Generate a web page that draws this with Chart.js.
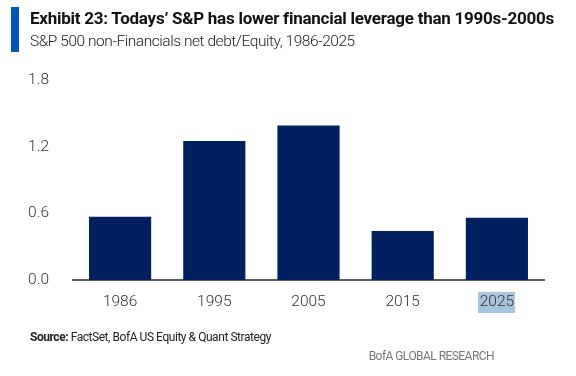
<!DOCTYPE html>
<html>
<head>
<meta charset="utf-8">
<script src="https://cdn.jsdelivr.net/npm/chart.js@4"></script>
<style>
  html, body { margin: 0; padding: 0; background: #fff; }
  #wrap { position: relative; width: 576px; height: 376px; overflow: hidden; font-family: "Roboto", "Liberation Sans", sans-serif; }
  #chart { position: absolute; left: 0; top: 0; }
  .bar { position: absolute; left: 11px; top: 7px; width: 8px; height: 45px; background: #0057b8; }
  .title { position: absolute; left: 30px; top: 8px; font-size: 17px; font-weight: 700; color: #111; letter-spacing: -0.25px; white-space: nowrap; }
  .subtitle { position: absolute; left: 30px; top: 32px; font-size: 15.5px; font-weight: 300; color: #222; letter-spacing: -0.45px; white-space: nowrap; }
  .source { position: absolute; left: 30px; top: 330px; font-size: 12px; color: #222; letter-spacing: -0.45px; }
  .brand { position: absolute; right: 82px; top: 349px; font-size: 12px; color: #777; letter-spacing: -0.55px; }
</style>
</head>
<body>
<div id="wrap">
  <canvas id="chart" width="576" height="376"></canvas>
  <div class="bar"></div>
  <div class="title">Exhibit 23: Todays’ S&amp;P has lower financial leverage than 1990s-2000s</div>
  <div class="subtitle">S&amp;P 500 non-Financials net debt/Equity, 1986-2025</div>
  <div class="source"><b>Source:</b> FactSet, BofA US Equity &amp; Quant Strategy</div>
  <div class="brand">BofA GLOBAL RESEARCH</div>
</div>
<script>
const years = ["1986", "1995", "2005", "2015", "2025"];
const netDebtToEquity = [0.57, 1.25, 1.39, 0.44, 0.56];
const yTicks = [0.0, 0.6, 1.2, 1.8];
const highlightedYear = "2025";

// light blue box behind the highlighted year label, as in the source
const labelHighlight = {
  id: "labelHighlight",
  beforeDraw(chart) {
    const x = chart.scales.x;
    const i = years.indexOf(highlightedYear);
    if (i < 0) return;
    const cx = x.getPixelForTick(i);
    const ctx = chart.ctx;
    ctx.save();
    ctx.fillStyle = "#a7c5de";
    ctx.fillRect(cx - 19, x.top + 12, 37, 21);
    ctx.restore();
  }
};

new Chart(document.getElementById("chart"), {
  type: "bar",
  data: {
    labels: years,
    datasets: [{
      data: netDebtToEquity,
      backgroundColor: "#002060",
      categoryPercentage: 0.66,
      barPercentage: 1.0
    }]
  },
  options: {
    responsive: false,
    animation: false,
    layout: { padding: { left: 0, right: 32, top: 80, bottom: 56 } },
    plugins: { legend: { display: false }, tooltip: { enabled: false } },
    scales: {
      x: {
        grid: { display: false },
        border: { display: true, color: "#595959", width: 2 },
        ticks: { color: "#333", padding: 5, font: { family: "Roboto", size: 15.5, weight: 300 } },
        afterFit(scale) { scale.height = 40; }
      },
      y: {
        min: 0,
        max: 1.8,
        afterBuildTicks(scale) { scale.ticks = yTicks.map((v) => ({ value: v })); },
        grid: { display: false },
        border: { display: false },
        ticks: {
          color: "#333",
          padding: 16,
          font: { family: "Roboto", size: 15.5, weight: 300 },
          callback: (v) => Number(v).toFixed(1)
        },
        afterFit(scale) { scale.width = 73; }
      }
    }
  },
  plugins: [labelHighlight]
});
</script>
</body>
</html>
